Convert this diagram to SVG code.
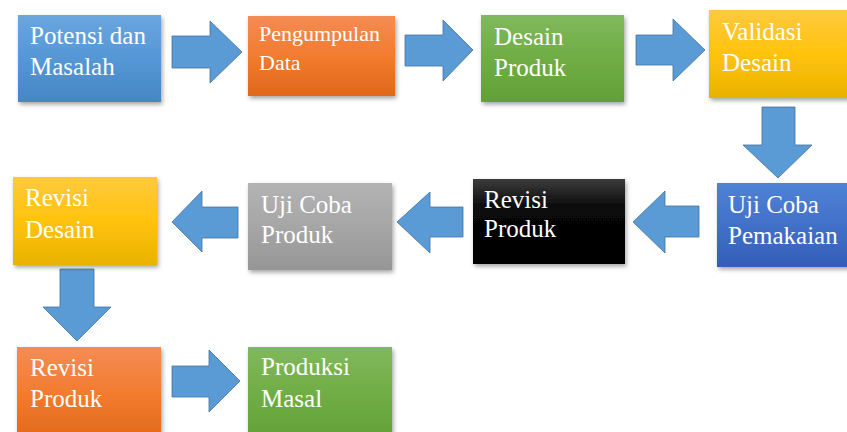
<svg xmlns="http://www.w3.org/2000/svg" width="847" height="432" viewBox="0 0 847 432">
  <defs>
    <linearGradient id="gBlue" x1="0" y1="0" x2="0" y2="1">
      <stop offset="0" stop-color="#6aa6df"/><stop offset="0.5" stop-color="#5597d6"/><stop offset="1" stop-color="#4785c4"/>
    </linearGradient>
    <linearGradient id="gOrange" x1="0" y1="0" x2="0" y2="1">
      <stop offset="0" stop-color="#f48c55"/><stop offset="0.5" stop-color="#f27b2e"/><stop offset="1" stop-color="#e0681a"/>
    </linearGradient>
    <linearGradient id="gGreen" x1="0" y1="0" x2="0" y2="1">
      <stop offset="0" stop-color="#80b95c"/><stop offset="0.5" stop-color="#70ad45"/><stop offset="1" stop-color="#62a036"/>
    </linearGradient>
    <linearGradient id="gYellow" x1="0" y1="0" x2="0" y2="1">
      <stop offset="0" stop-color="#ffc93f"/><stop offset="0.5" stop-color="#ffc30c"/><stop offset="1" stop-color="#e8b200"/>
    </linearGradient>
    <linearGradient id="gGrey" x1="0" y1="0" x2="0" y2="1">
      <stop offset="0" stop-color="#b3b3b3"/><stop offset="0.5" stop-color="#a6a6a6"/><stop offset="1" stop-color="#969696"/>
    </linearGradient>
    <linearGradient id="gBlack" x1="0" y1="0" x2="0" y2="1">
      <stop offset="0" stop-color="#3c3c3c"/><stop offset="0.35" stop-color="#080808"/><stop offset="1" stop-color="#000000"/>
    </linearGradient>
    <linearGradient id="gDeep" x1="0" y1="0" x2="0" y2="1">
      <stop offset="0" stop-color="#4e83d6"/><stop offset="0.5" stop-color="#4270c8"/><stop offset="1" stop-color="#345eb6"/>
    </linearGradient>
    <filter id="shadow" x="-10%" y="-10%" width="125%" height="130%">
      <feDropShadow dx="1.5" dy="2.5" stdDeviation="2" flood-color="#000" flood-opacity="0.35"/>
    </filter>
  </defs>
  <style>
    .box { filter: url(#shadow); }
    .label { font-family: "Liberation Serif", "Times New Roman", serif; font-size: 25px; fill: #ffffff; }
    .small { font-size: 22px; }
    .arrow { fill: #5b9bd5; stroke: #41719c; stroke-width: 0.8; }
  </style>

  <rect width="847" height="432" fill="#ffffff"/>

  <g id="connectors">
    <polygon class="arrow" points="172,36 210,36 210,21 242,52 210,83 210,68 172,68"/>
    <polygon class="arrow" points="405,35 443,35 443,20 473,50 443,81 443,66 405,66"/>
    <polygon class="arrow" points="636,35 673,35 673,19 705,50 673,81 673,65 636,65"/>
    <polygon class="arrow" points="762,107 795,107 795,145 812,145 778,178 743,145 762,145"/>
    <polygon class="arrow" points="699,206 665,206 665,191 633,222 665,253 665,237 699,237"/>
    <polygon class="arrow" points="463,207 430,207 430,192 397,222 430,253 430,237 463,237"/>
    <polygon class="arrow" points="238,207 202,207 202,191 172,222 202,252 202,238 238,238"/>
    <polygon class="arrow" points="60,269 94,269 94,307 111,307 77,341 43,307 60,307"/>
    <polygon class="arrow" points="172,366 209,366 209,350 240,381 209,412 209,397 172,397"/>
  </g>

  <g id="potensi-masalah">
    <rect class="box" x="18" y="15" width="143" height="87" fill="url(#gBlue)"/>
    <text class="label" x="30" y="44">Potensi dan</text>
    <text class="label" x="30" y="75">Masalah</text>
  </g>

  <g id="pengumpulan-data">
    <rect class="box" x="248" y="16" width="147" height="80" fill="url(#gOrange)"/>
    <text class="label small" x="259" y="41">Pengumpulan</text>
    <text class="label small" x="259" y="70">Data</text>
  </g>

  <g id="desain-produk">
    <rect class="box" x="481" y="15" width="143" height="87" fill="url(#gGreen)"/>
    <text class="label" x="494" y="45">Desain</text>
    <text class="label" x="494" y="76">Produk</text>
  </g>

  <g id="validasi-desain">
    <rect class="box" x="709" y="10" width="150" height="88" fill="url(#gYellow)"/>
    <text class="label" x="722" y="40">Validasi</text>
    <text class="label" x="722" y="71">Desain</text>
  </g>

  <g id="uji-coba-pemakaian">
    <rect class="box" x="717" y="183" width="145" height="84" fill="url(#gDeep)"/>
    <text class="label" x="728" y="213">Uji Coba</text>
    <text class="label" x="728" y="244">Pemakaian</text>
  </g>

  <g id="revisi-produk-1">
    <rect class="box" x="473" y="179" width="152" height="85" fill="url(#gBlack)"/>
    <text class="label" x="484" y="208">Revisi</text>
    <text class="label" x="484" y="237">Produk</text>
  </g>

  <g id="uji-coba-produk">
    <rect class="box" x="248" y="183" width="144" height="87" fill="url(#gGrey)"/>
    <text class="label" x="261" y="213">Uji Coba</text>
    <text class="label" x="261" y="243">Produk</text>
  </g>

  <g id="revisi-desain">
    <rect class="box" x="13" y="177" width="144" height="88" fill="url(#gYellow)"/>
    <text class="label" x="25" y="206">Revisi</text>
    <text class="label" x="25" y="238">Desain</text>
  </g>

  <g id="revisi-produk-2">
    <rect class="box" x="17" y="347" width="144" height="95" fill="url(#gOrange)"/>
    <text class="label" x="30" y="376">Revisi</text>
    <text class="label" x="30" y="407">Produk</text>
  </g>

  <g id="produksi-masal">
    <rect class="box" x="248" y="347" width="144" height="95" fill="url(#gGreen)"/>
    <text class="label" x="261" y="375">Produksi</text>
    <text class="label" x="261" y="407">Masal</text>
  </g>
</svg>
